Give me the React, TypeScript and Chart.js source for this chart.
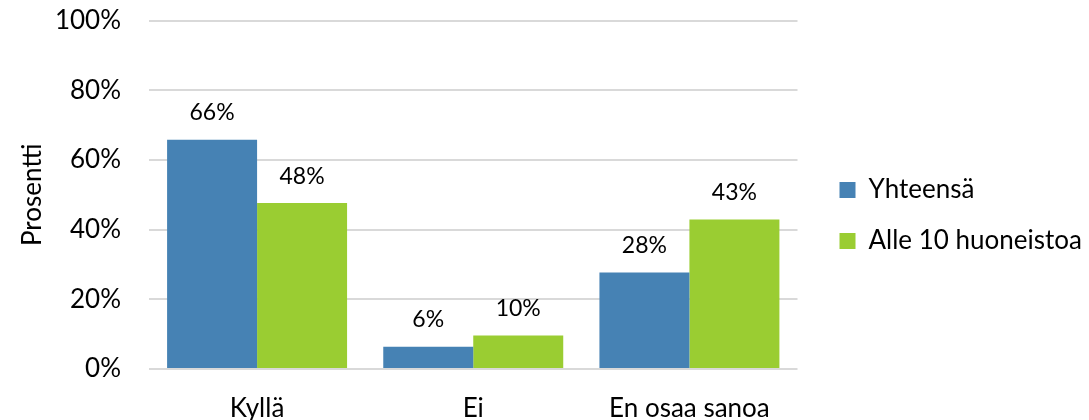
import React, { useEffect, useRef } from "react";
import { Chart, registerables } from "chart.js";

Chart.register(...registerables);

const categories = ["Kyllä", "Ei", "En osaa sanoa"];
const seriesNames = ["Yhteensä", "Alle 10 huoneistoa"];
const yhteensa = [65.8, 6.4, 27.7];
const alle10 = [47.6, 9.6, 42.9];
const yTicks = [0, 20, 40, 60, 80, 100];
const colors = ["#4682B4", "#9ACD32"];

const FONT = "Lato";

const valueLabels = {
  id: "valueLabels",
  afterDatasetsDraw(chart: any) {
    const ctx = chart.ctx;
    ctx.save();
    ctx.font = `23px ${FONT}`;
    ctx.fillStyle = "#000";
    ctx.textAlign = "center";
    ctx.textBaseline = "alphabetic";
    chart.data.datasets.forEach((ds: any, di: number) => {
      const meta = chart.getDatasetMeta(di);
      meta.data.forEach((bar: any, i: number) => {
        const v = ds.data[i];
        ctx.fillText(Math.round(v) + "%", bar.x, bar.y - 19.5);
      });
    });
    ctx.restore();
  },
};

const legendPlace = {
  id: "legendPlace",
  beforeLayout(chart: any) {
    const lg = chart.legend;
    if (lg && !lg.__patched) {
      const orig = lg.fit;
      lg.fit = function () {
        orig.call(this);
        this.width = 1089 - 797.5;
      };
      lg.__patched = true;
    }
  },
  afterLayout(chart: any) {
    const lg = chart.legend;
    if (lg) {
      lg.left += 17;
      lg.right += 17;
      lg.top -= 4.75;
      lg.bottom -= 4.75;
    }
  },
};

export default function App() {
  const ref = useRef<HTMLCanvasElement>(null);
  useEffect(() => {
    if (!ref.current) return;
    Chart.defaults.font.family = FONT;
    const chart = new Chart(ref.current, {
      type: "bar",
      data: {
        labels: categories,
        datasets: [
          {
            label: seriesNames[0],
            data: yhteensa,
            backgroundColor: colors[0],
            borderWidth: 0,
            categoryPercentage: 0.8326,
            barPercentage: 1,
          },
          {
            label: seriesNames[1],
            data: alle10,
            backgroundColor: colors[1],
            borderWidth: 0,
            categoryPercentage: 0.8326,
            barPercentage: 1,
          },
        ],
      },
      options: {
        responsive: false,
        animation: false,
        layout: { padding: { top: 20.5, bottom: 0, left: 0, right: 0 } },
        plugins: {
          legend: {
            position: "right",
            align: "center",
            labels: {
              boxWidth: 16,
              boxHeight: 16,
              padding: 25,
              color: "#000",
              font: { size: 26, family: FONT },
            },
          },
          tooltip: { enabled: false },
        },
        scales: {
          x: {
            grid: { display: false, drawTicks: false },
            border: { display: false },
            ticks: {
              color: "#000",
              font: { size: 26, family: FONT },
              padding: 24,
              maxRotation: 0,
            },
            afterFit(scale: any) {
              scale.height = 51;
            },
          },
          y: {
            min: 0,
            max: 100,
            afterBuildTicks(scale: any) {
              scale.ticks = yTicks.map((v) => ({ value: v }));
            },
            grid: { color: "#d9d9d9", lineWidth: 2, drawTicks: false },
            border: { display: false },
            ticks: {
              color: "#000",
              font: { size: 26, family: FONT },
              padding: 28,
              callback: (v: any) => v + "%",
            },
            title: {
              display: true,
              text: "Prosentti",
              color: "#000",
              font: { size: 26, family: FONT },
              padding: { top: 16.7, bottom: 0 },
            },
            afterFit(scale: any) {
              scale.width = 149;
              scale.paddingTop = 15;
              scale.paddingBottom = 15;
            },
          },
        },
      },
      plugins: [valueLabels, legendPlace],
    });
    return () => chart.destroy();
  }, []);
  return (
    <div style={{ position: "fixed", left: 0, top: 0, width: 1089, height: 420, background: "#fff" }}>
      <canvas ref={ref} width={1089} height={420} style={{ display: "block" }} />
    </div>
  );
}
